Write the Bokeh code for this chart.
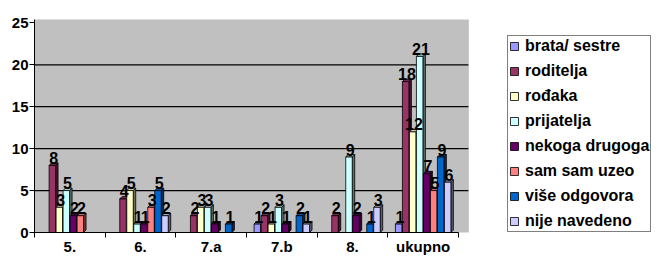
import numpy as np
from bokeh.plotting import figure
from bokeh.models import Range1d, FixedTicker, Legend, LegendItem, ColumnDataSource, BoxAnnotation
from bokeh.core.properties import value
from bokeh.embed import file_html
from bokeh.resources import INLINE

categories = ["5.", "6.", "7.a", "7.b", "8.", "ukupno"]
series_names = ["brata/ sestre", "roditelja", "rođaka", "prijatelja",
                "nekoga drugoga", "sam sam uzeo", "više odgovora", "nije navedeno"]
brata = [0, 0, 0, 1, 0, 1]
roditelja = [8, 4, 2, 2, 2, 18]
rodaka = [3, 5, 3, 1, 0, 12]
prijatelja = [5, 1, 3, 3, 9, 21]
nekoga = [2, 1, 1, 1, 2, 7]
sam = [2, 3, 0, 0, 0, 5]
vise = [0, 5, 1, 2, 1, 9]
nije = [0, 2, 0, 1, 3, 6]
y_ticks = [0, 5, 10, 15, 20, 25]

series = [brata, roditelja, rodaka, prijatelja, nekoga, sam, vise, nije]
colors = ["#9999FF", "#993366", "#FFFFCC", "#CCFFFF", "#660066", "#FF8080", "#0066CC", "#CCCCFF"]

FONT = "Liberation Sans"
n = len(categories)
WALL_RIGHT = n + 0.14   # back wall extends a little past the last category (3D depth)
Y_TOP = 25.4

p = figure(width=662, height=257, output_backend="svg", toolbar_location=None,
           x_range=Range1d(0, 8.887), y_range=Range1d(0, Y_TOP),
           min_border_left=34, min_border_right=0, min_border_top=19, min_border_bottom=0)
p.background_fill_color = "white"
p.border_fill_color = "white"
p.outline_line_color = None
p.xgrid.visible = False
p.ygrid.visible = False

# grey back wall
wall = BoxAnnotation(left=0, right=WALL_RIGHT, bottom=0, top=Y_TOP,
                     fill_color="#C0C0C0", fill_alpha=1, line_color="#808080",
                     line_width=1, level="underlay")
p.add_layout(wall)

# gridlines on the wall
grid_vals = y_ticks[1:-1]
p.segment(x0=[0] * len(grid_vals), x1=[WALL_RIGHT] * len(grid_vals), y0=grid_vals, y1=grid_vals,
          line_color="black", line_width=1.3)

# y axis
p.yaxis.ticker = FixedTicker(ticks=y_ticks)
p.yaxis.axis_line_color = "black"
p.yaxis.major_tick_line_color = "black"
p.yaxis.major_tick_out = 5
p.yaxis.major_tick_in = 0
p.yaxis.minor_tick_line_color = None
p.yaxis.major_label_text_font = FONT
p.yaxis.major_label_text_font_style = "bold"
p.yaxis.major_label_text_font_size = "15px"
p.yaxis.major_label_text_color = "black"
p.yaxis.major_label_standoff = 1

# x axis: labels at centres, tick marks at boundaries
centers = [i + 0.5 for i in range(n)]
bounds = [float(i) for i in range(n + 1)]
p.xaxis.ticker = FixedTicker(ticks=centers, minor_ticks=bounds)
p.xaxis.bounds = (0, n)
p.xaxis.major_label_overrides = {c: lab for c, lab in zip(centers, categories)}
p.xaxis.axis_line_color = "black"
p.xaxis.major_tick_line_color = None
p.xaxis.major_tick_out = 0
p.xaxis.major_tick_in = 0
p.xaxis.minor_tick_line_color = "black"
p.xaxis.minor_tick_out = 5
p.xaxis.minor_tick_in = 0
p.xaxis.major_label_text_font = FONT
p.xaxis.major_label_text_font_style = "bold"
p.xaxis.major_label_text_font_size = "15px"
p.xaxis.major_label_text_color = "black"
p.xaxis.major_label_standoff = 0

slot = 0.099
bw = 0.092
dx = 0.035
dy = 0.3

def darker(hexc, f):
    r, g, b = int(hexc[1:3], 16), int(hexc[3:5], 16), int(hexc[5:7], 16)
    return "#%02x%02x%02x" % (int(r * f), int(g * f), int(b * f))

# depth faces first
for j, vals in enumerate(series):
    xs_side, ys_side, xs_top, ys_top = [], [], [], []
    for i, v in enumerate(vals):
        if v <= 0:
            continue
        xc = i + 0.5 + (j - 3.5) * slot
        x0, x1 = xc - bw / 2, xc + bw / 2
        xs_side.append([x1, x1 + dx, x1 + dx, x1])
        ys_side.append([0, dy, v + dy, v])
        xs_top.append([x0, x0 + dx, x1 + dx, x1])
        ys_top.append([v, v + dy, v + dy, v])
    if xs_side:
        p.patches(xs_side, ys_side, fill_color=darker(colors[j], 0.45), line_color="black", line_width=0.8)
        p.patches(xs_top, ys_top, fill_color=darker(colors[j], 0.8), line_color="black", line_width=0.8)

renderers = []
for j, vals in enumerate(series):
    lefts, rights, tops = [], [], []
    for i, v in enumerate(vals):
        if v <= 0:
            continue
        xc = i + 0.5 + (j - 3.5) * slot
        lefts.append(xc - bw / 2)
        rights.append(xc + bw / 2)
        tops.append(v)
    src = ColumnDataSource(dict(left=lefts, right=rights, top=tops, bottom=[0] * len(tops)))
    r = p.quad(left="left", right="right", top="top", bottom="bottom", source=src,
               fill_color=colors[j], line_color="black", line_width=0.8)
    renderers.append(r)

# data labels
lx, ly, lt = [], [], []
for j, vals in enumerate(series):
    for i, v in enumerate(vals):
        if v <= 0:
            continue
        lx.append(i + 0.5 + (j - 3.5) * slot + dx / 2)
        ly.append(v + dy)
        lt.append(str(v))
p.text(x=lx, y=ly, text=lt, text_font=value(FONT), text_font_style="bold",
       text_font_size="16px", text_align="center", text_baseline="bottom",
       text_color="black", y_offset=1)

legend = Legend(items=[LegendItem(label=nm, renderers=[r]) for nm, r in zip(series_names, renderers)],
                location=(473, 0))
legend.label_text_font = FONT
legend.label_text_font_style = "bold"
legend.label_text_font_size = "16px"
legend.label_text_color = "black"
legend.glyph_width = 10
legend.glyph_height = 10
legend.label_height = 18
legend.label_standoff = 6
legend.spacing = 7
legend.padding = 1
legend.margin = 0
legend.border_line_color = "black"
legend.border_line_width = 1
legend.background_fill_color = "white"
legend.background_fill_alpha = 1
p.add_layout(legend)

open("out.html", "w").write(file_html(p, INLINE))
